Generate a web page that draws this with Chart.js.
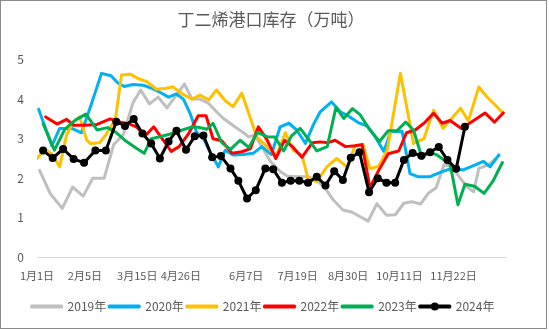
<!DOCTYPE html>
<html>
<head>
<meta charset="utf-8">
<title>丁二烯港口库存</title>
<script src="https://cdn.jsdelivr.net/npm/chart.js@4.4.1/dist/chart.umd.min.js"></script>
<style>
  body { margin: 0; background: #fff; }
  #wrap { width: 549px; height: 330px; }
</style>
</head>
<body>
<div id="wrap"><canvas id="stock-chart"></canvas></div>
<script>
// x = weeks from 1月1日, y = 万吨
var tickLabels = ['1月1日', '2月5日', '3月15日', '4月26日', '6月7日', '7月19日', '8月30日', '10月11日', '11月22日'];
var tickWeeks = [0, 5.5, 11.5, 16.5, 24.0, 29.9, 35.7, 41.6, 47.8];

var weeks2019 = [0.3, 1.5, 2.9, 4.1, 5.3, 6.4, 7.7, 8.8, 9.9, 11.0, 11.9, 12.9, 13.9, 14.9, 16.0, 16.9, 17.8, 18.7, 19.7, 20.6, 21.4, 22.7, 23.5, 24.3, 25.0, 25.8, 26.8, 27.9, 28.7, 30.0, 31.1, 32.1, 33.1, 34.0, 35.1, 36.1, 37.1, 38.0, 39.0, 40.1, 41.1, 42.1, 43.0, 44.0, 44.9, 45.8, 46.7, 47.6, 48.5, 49.3, 50.1, 50.7, 51.8, 53.0];
var stock2019 = [2.2, 1.62, 1.24, 1.78, 1.55, 2.0, 2.0, 2.85, 3.1, 3.9, 4.23, 3.88, 4.05, 3.78, 4.1, 4.38, 4.0, 4.0, 3.89, 3.68, 3.51, 3.3, 3.18, 3.05, 3.09, 2.8, 2.42, 2.17, 2.06, 2.04, 2.04, 1.95, 1.74, 1.45, 1.2, 1.15, 1.03, 0.92, 1.36, 1.07, 1.08, 1.37, 1.41, 1.35, 1.62, 1.76, 2.34, 2.3, 2.02, 1.79, 1.66, 2.25, 2.34, 2.57];

var weeks2020 = [0.2, 1.7, 2.6, 4.0, 5.1, 6.2, 7.4, 8.5, 9.3, 10.0, 11.0, 12.2, 13.2, 14.2, 15.1, 16.0, 16.8, 17.6, 18.3, 19.1, 19.9, 20.8, 21.6, 22.5, 23.7, 24.8, 25.8, 26.9, 27.9, 28.9, 29.8, 30.8, 31.7, 32.5, 33.8, 34.8, 35.9, 36.9, 37.9, 38.8, 39.8, 40.6, 41.9, 42.8, 43.7, 45.1, 46.5, 47.6, 48.9, 50.3, 51.2, 52.0, 53.0];
var stock2020 = [3.74, 2.82, 3.26, 3.26, 3.15, 3.85, 4.65, 4.59, 4.4, 4.32, 4.37, 4.35, 4.27, 4.16, 4.05, 4.13, 4.0, 3.62, 3.17, 3.0, 2.65, 2.29, 2.71, 2.59, 2.6, 2.63, 2.8, 2.6, 3.3, 3.39, 3.22, 2.88, 3.35, 3.68, 3.93, 3.68, 3.55, 3.4, 3.32, 3.05, 2.68, 3.18, 3.18, 2.12, 2.04, 2.04, 2.17, 2.25, 2.21, 2.34, 2.43, 2.29, 2.59];

var weeks2021 = [0, 0.9, 1.7, 2.6, 3.4, 4.2, 4.9, 5.7, 6.1, 7.2, 8.0, 9.0, 9.7, 10.7, 11.6, 12.6, 13.7, 14.7, 15.6, 16.6, 17.8, 18.7, 19.7, 20.6, 21.6, 22.5, 23.5, 24.5, 25.2, 26.0, 26.8, 27.5, 28.5, 29.4, 30.4, 31.1, 32.1, 33.3, 34.4, 35.6, 36.5, 37.4, 38.2, 39.2, 40.2, 41.7, 43.2, 44.4, 45.5, 46.6, 47.6, 48.6, 49.5, 50.7, 51.6, 52.8, 53.5];
var stock2021 = [2.5, 2.73, 2.62, 2.29, 3.1, 3.43, 3.55, 2.97, 2.88, 2.9, 3.13, 3.5, 4.61, 4.63, 4.52, 4.44, 4.25, 4.27, 4.31, 4.14, 4.0, 4.1, 3.98, 4.23, 3.96, 3.81, 4.15, 3.51, 3.05, 2.88, 2.71, 2.6, 3.15, 2.71, 2.58, 2.0, 1.92, 2.3, 2.5, 2.28, 2.82, 2.86, 2.24, 2.3, 2.72, 4.65, 2.88, 3.0, 3.72, 3.26, 3.52, 3.77, 3.45, 4.31, 4.06, 3.8, 3.64];

var weeks2022 = [1.0, 2.3, 3.4, 4.2, 5.5, 6.9, 8.4, 9.3, 10.5, 11.4, 12.4, 13.4, 14.5, 15.4, 16.3, 17.4, 18.5, 19.4, 20.2, 21.2, 22.4, 23.5, 24.5, 25.4, 26.4, 27.4, 28.4, 29.3, 30.4, 31.6, 32.5, 33.4, 34.2, 35.4, 36.5, 37.3, 38.2, 39.2, 40.3, 41.5, 42.4, 43.4, 44.4, 45.5, 46.5, 47.4, 48.7, 50.2, 51.4, 52.5, 53.5];
var stock2022 = [3.55, 3.37, 3.49, 3.34, 3.34, 3.36, 3.5, 3.43, 3.38, 3.3, 3.07, 3.3, 2.96, 2.68, 2.8, 3.13, 3.58, 3.58, 3.0, 2.95, 2.63, 2.67, 2.75, 3.3, 2.97, 2.5, 2.96, 2.8, 2.53, 2.9, 2.92, 2.9, 2.96, 2.8, 2.82, 2.85, 1.76, 2.2, 2.62, 2.69, 3.15, 3.22, 3.39, 3.64, 3.39, 3.46, 3.26, 3.47, 3.65, 3.42, 3.65];

var weeks2023 = [0.7, 2.0, 3.2, 4.4, 5.6, 6.9, 8.1, 9.0, 10.2, 11.4, 12.3, 13.1, 14.1, 15.3, 16.4, 17.8, 18.7, 19.5, 20.2, 21.2, 22.2, 23.3, 24.3, 25.3, 26.4, 27.3, 28.3, 29.2, 30.2, 31.1, 32.1, 33.3, 34.3, 35.2, 36.2, 37.1, 38.1, 39.3, 40.3, 41.3, 42.3, 43.2, 44.2, 44.9, 45.8, 46.8, 47.4, 48.3, 49.1, 50.2, 51.3, 52.3, 53.4];
var stock2023 = [3.38, 2.71, 3.24, 3.47, 3.62, 3.22, 3.28, 3.17, 2.94, 2.76, 2.63, 3.0, 3.05, 3.12, 3.2, 3.3, 3.28, 3.24, 3.39, 2.9, 2.73, 2.96, 2.78, 3.16, 3.05, 3.04, 2.69, 3.07, 3.26, 3.0, 2.69, 2.8, 3.79, 3.51, 3.76, 3.6, 3.25, 2.93, 3.2, 3.2, 3.42, 3.22, 2.5, 2.67, 2.6, 2.45, 2.36, 1.33, 1.85, 1.8, 1.62, 1.92, 2.4];

var weeks2024 = [0.7, 1.8, 3.0, 4.2, 5.4, 6.7, 7.9, 9.1, 10.1, 11.1, 12.1, 13.1, 14.1, 15.1, 16.0, 17.1, 18.1, 19.1, 20.1, 21.1, 22.2, 23.1, 24.1, 25.1, 26.2, 27.1, 28.1, 29.1, 30.1, 31.1, 32.1, 33.1, 34.1, 35.1, 36.0, 37.0, 38.1, 39.1, 40.1, 41.1, 42.1, 43.1, 44.1, 45.1, 46.1, 47.1, 48.1, 49.1];
var stock2024 = [2.70, 2.51, 2.74, 2.49, 2.39, 2.70, 2.70, 3.43, 3.32, 3.50, 3.13, 2.88, 2.50, 2.93, 3.20, 2.72, 3.06, 3.08, 2.53, 2.56, 2.25, 1.94, 1.49, 1.70, 2.25, 2.23, 1.89, 1.94, 1.94, 1.89, 2.04, 1.82, 2.18, 1.96, 2.52, 2.66, 1.65, 2.0, 1.89, 1.89, 2.46, 2.64, 2.57, 2.66, 2.79, 2.46, 2.24, 3.30];

var FONT = "'Noto Sans CJK SC', 'Noto Sans', sans-serif";
var TEXT = '#595959';

function toPoints(weeks, values) {
  return weeks.map(function (w, i) {
    return { x: w, y: values[i] };
  });
}

function yearLine(label, weeks, values, color, order) {
  return {
    label: label,
    data: toPoints(weeks, values),
    borderColor: color,
    backgroundColor: color,
    borderWidth: 3,
    borderJoinStyle: 'round',
    borderCapStyle: 'round',
    pointRadius: 0,
    tension: 0,
    fill: false,
    order: order
  };
}

var line2024 = yearLine('2024年', weeks2024, stock2024, '#000000', 1);
line2024.pointRadius = 4;
line2024.pointBackgroundColor = '#000000';
line2024.pointBorderWidth = 0;

// white page + outer frame + the dot on the 2024 legend line
var frame = {
  id: 'frame',
  beforeDraw: function (chart) {
    var ctx = chart.ctx;
    ctx.save();
    ctx.fillStyle = '#ffffff';
    ctx.fillRect(0, 0, chart.width, chart.height);
    ctx.restore();
  },
  afterDraw: function (chart) {
    var ctx = chart.ctx;
    ctx.save();
    ctx.strokeStyle = '#8a8a8a';
    ctx.lineWidth = 1;
    ctx.strokeRect(0.5, 0.5, 546, 328);
    var hb = chart.legend.legendHitBoxes[5];
    if (hb) {
      ctx.fillStyle = '#000000';
      ctx.beginPath();
      ctx.arc(hb.left + 15, hb.top + 6, 4, 0, Math.PI * 2);
      ctx.fill();
    }
    ctx.restore();
  }
};

new Chart(document.getElementById('stock-chart'), {
  type: 'line',
  data: {
    datasets: [
      yearLine('2019年', weeks2019, stock2019, '#bfbfbf', 6),
      yearLine('2020年', weeks2020, stock2020, '#00b0f0', 5),
      yearLine('2021年', weeks2021, stock2021, '#ffc000', 4),
      yearLine('2022年', weeks2022, stock2022, '#ff0000', 3),
      yearLine('2023年', weeks2023, stock2023, '#00b050', 2),
      line2024
    ]
  },
  options: {
    responsive: true,
    maintainAspectRatio: false,
    animation: false,
    events: [],
    layout: { padding: { top: 0, left: 0, right: 23, bottom: 7.5 } },
    scales: {
      x: {
        type: 'linear',
        min: 0,
        max: 53.7,
        grid: { display: false, drawTicks: false },
        border: { display: true, color: '#d9d9d9', width: 1 },
        afterBuildTicks: function (axis) {
          axis.ticks = tickWeeks.map(function (w) { return { value: w }; });
        },
        afterFit: function (axis) { axis.height = 40; },
        ticks: {
          autoSkip: false,
          maxRotation: 0,
          padding: 12,
          color: TEXT,
          font: { family: FONT, size: 11 },
          callback: function (value, index) { return tickLabels[index]; }
        }
      },
      y: {
        min: 0,
        max: 5,
        grid: { display: false, drawTicks: false },
        border: { display: false },
        afterFit: function (axis) { axis.width = 37; },
        ticks: {
          stepSize: 1,
          padding: 13,
          color: TEXT,
          font: { family: FONT, size: 12 }
        }
      },
      yRight: {
        position: 'right',
        grid: { display: false, drawTicks: false },
        border: { display: false },
        ticks: { display: false },
        afterFit: function (axis) { axis.width = 21; }
      }
    },
    plugins: {
      title: {
        display: true,
        fullSize: false,
        text: '丁二烯港口库存（万吨）',
        color: TEXT,
        font: { family: FONT, size: 17, weight: 'normal' },
        padding: { top: 9.8, bottom: 29.3 }
      },
      legend: {
        position: 'bottom',
        labels: {
          boxWidth: 30,
          boxHeight: 1,
          padding: 3,
          color: TEXT,
          font: { family: FONT, size: 12 },
          sort: function (a, b) { return a.datasetIndex - b.datasetIndex; }
        }
      },
      tooltip: { enabled: false }
    }
  },
  plugins: [frame]
});
</script>
</body>
</html>
